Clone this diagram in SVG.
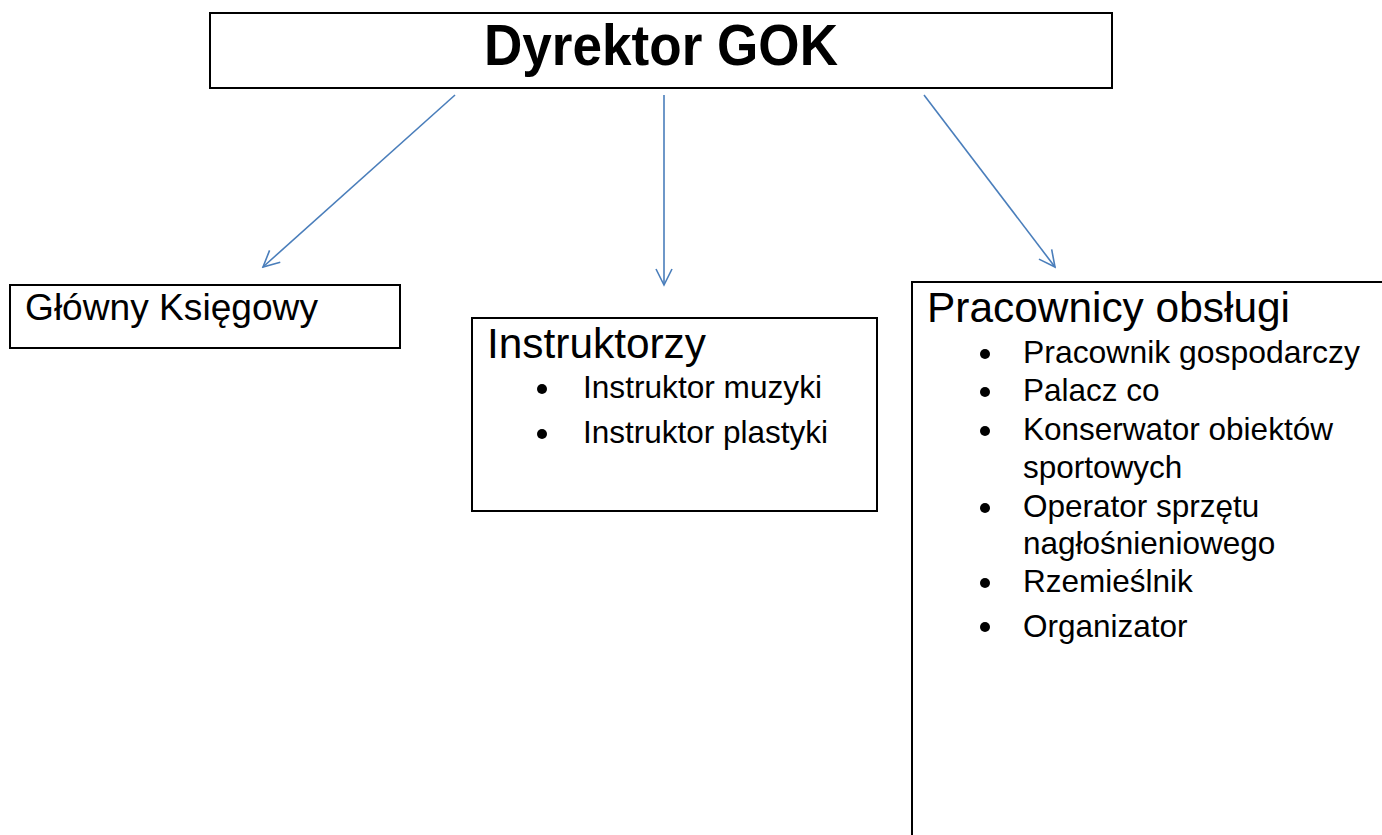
<svg xmlns="http://www.w3.org/2000/svg" width="1382" height="835" viewBox="0 0 1382 835">
<style>
.box{fill:#fff;stroke:#000;stroke-width:2}
.t{font-family:"Liberation Sans",Arial,sans-serif;fill:#000}
.h{font-size:42px}
.b{font-size:31.5px}
.conn{stroke:#4a7ebb;stroke-width:1.6;fill:none}
.dot{fill:#000}
</style>
<defs>
<marker id="arr" viewBox="0 0 20 20" refX="18" refY="10" markerWidth="20" markerHeight="20" markerUnits="userSpaceOnUse" orient="auto">
<path d="M2,2 L18,10 L2,18" fill="none" stroke="#4a7ebb" stroke-width="1.6"/>
</marker>
</defs>
<rect width="1382" height="835" fill="#fff"/>
<g id="connectors">
<line class="conn" x1="455" y1="95" x2="263" y2="267" marker-end="url(#arr)"/>
<line class="conn" x1="664" y1="95" x2="664" y2="285" marker-end="url(#arr)"/>
<line class="conn" x1="924" y1="95" x2="1055" y2="267" marker-end="url(#arr)"/>
</g>
<g id="dyrektor">
<rect class="box" x="210" y="13" width="902" height="75"/>
<text class="t" x="484" y="65" font-size="58" font-weight="bold" textLength="354" lengthAdjust="spacingAndGlyphs">Dyrektor GOK</text>
</g>
<g id="ksiegowy">
<rect class="box" x="10" y="285" width="390" height="63"/>
<text class="t" x="25" y="320" font-size="37" textLength="293" lengthAdjust="spacingAndGlyphs">Główny Księgowy</text>
</g>
<g id="instruktorzy">
<rect class="box" x="472" y="318" width="405" height="193"/>
<text class="t h" x="487" y="358" textLength="219" lengthAdjust="spacingAndGlyphs">Instruktorzy</text>
<circle class="dot" cx="542" cy="389" r="5"/>
<text class="t b" x="583" y="398" textLength="239" lengthAdjust="spacingAndGlyphs">Instruktor muzyki</text>
<circle class="dot" cx="542" cy="434" r="5"/>
<text class="t b" x="583" y="443">Instruktor plastyki</text>
</g>
<g id="pracownicy">
<rect class="box" x="912" y="282" width="480" height="570"/>
<text class="t h" x="927" y="322" textLength="363" lengthAdjust="spacingAndGlyphs">Pracownicy obsługi</text>
<circle class="dot" cx="985" cy="354" r="5"/>
<text class="t b" x="1023" y="363" textLength="337" lengthAdjust="spacingAndGlyphs">Pracownik gospodarczy</text>
<circle class="dot" cx="985" cy="392" r="5"/>
<text class="t b" x="1023" y="401">Palacz co</text>
<circle class="dot" cx="985" cy="431" r="5"/>
<text class="t b" x="1023" y="440">Konserwator obiektów</text>
<text class="t b" x="1023" y="478">sportowych</text>
<circle class="dot" cx="985" cy="508" r="5"/>
<text class="t b" x="1023" y="517">Operator sprzętu</text>
<text class="t b" x="1023" y="554">nagłośnieniowego</text>
<circle class="dot" cx="985" cy="583" r="5"/>
<text class="t b" x="1023" y="592">Rzemieślnik</text>
<circle class="dot" cx="985" cy="627" r="5"/>
<text class="t b" x="1023" y="637">Organizator</text>
</g>
</svg>
